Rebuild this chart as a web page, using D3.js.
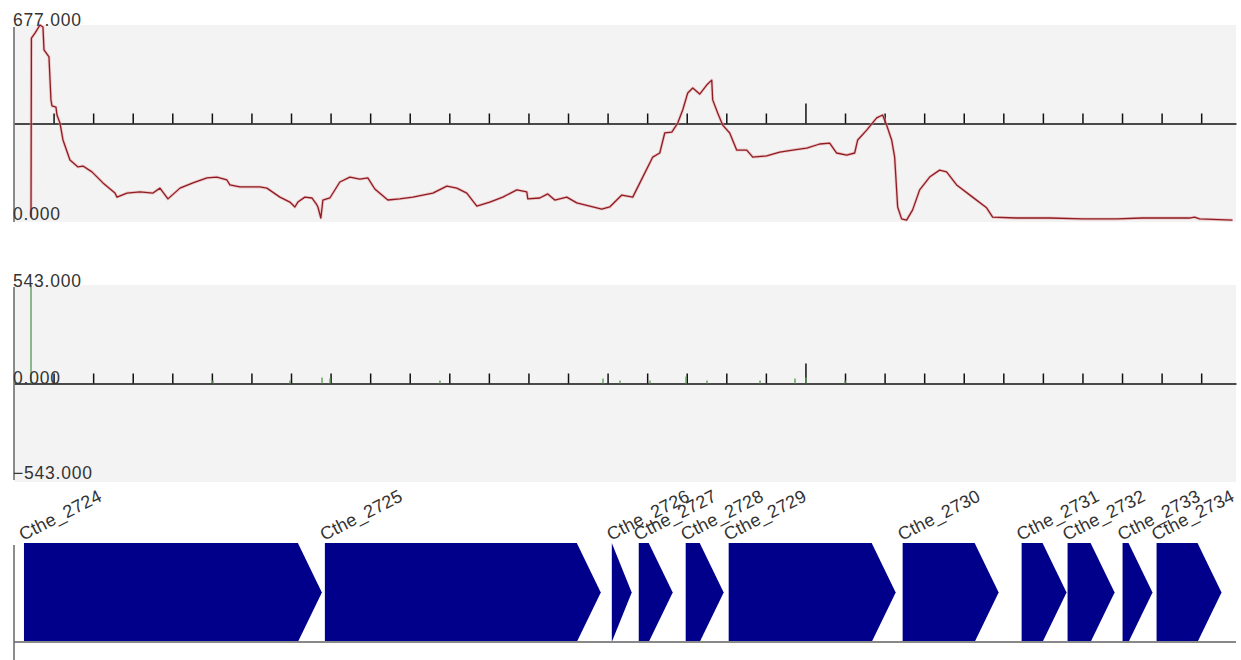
<!DOCTYPE html>
<html>
<head>
<meta charset="utf-8">
<script src="https://cdn.jsdelivr.net/npm/d3@7/dist/d3.min.js"></script>
<style>
  html, body { margin: 0; padding: 0; background: #fff; }
  svg { display: block; }
  text { font-family: "Liberation Sans", Arial, sans-serif; }
</style>
</head>
<body>
<svg id="chart" width="1241" height="660"></svg>
<script>
// Genomic window, in bp from the window start
const regionLength = 15440;
const minorTickStep = 500;
const majorTickStep = 10000;

// Coverage track (red)
const covMax = 677;
const covPos = [215, 220, 265, 328, 366, 379, 442, 467, 480, 530, 543, 581, 619, 707, 808, 871, 985, 1124, 1276, 1301,
  1427, 1591, 1756, 1844, 1945, 2097, 2261, 2438, 2564, 2690, 2728, 2854, 3107, 3195, 3360, 3486, 3549, 3587, 3675, 3764,
  3827, 3840, 3877, 3903, 3991, 4117, 4244, 4370, 4471, 4559, 4724, 4875, 5039, 5292, 5469, 5595, 5721, 5848, 6012, 6176,
  6353, 6479, 6492, 6643, 6744, 6833, 6984, 7111, 7275, 7426, 7527, 7679, 7818, 7944, 8071, 8159, 8222, 8311, 8386, 8449,
  8513, 8576, 8664, 8752, 8816, 8828, 8891, 8955, 9043, 9131, 9258, 9334, 9510, 9675, 9839, 10016, 10180, 10306, 10394, 10521,
  10622, 10660, 10774, 10900, 10975, 11026, 11089, 11127, 11165, 11215, 11278, 11354, 11443, 11569, 11695, 11783, 11910, 12112, 12289, 12365,
  12668, 13085, 13501, 13931, 14259, 14853, 14916, 14979, 15396];
const covVal = [15, 632, 649, 677, 670, 591, 567, 419, 398, 394, 367, 339, 281, 212, 188, 191, 171, 133, 98, 84,
  98, 102, 98, 115, 78, 115, 133, 150, 153, 143, 126, 119, 119, 115, 84, 67, 50, 67, 84, 81,
  57, 50, 12, 74, 81, 136, 153, 146, 150, 112, 74, 78, 84, 98, 122, 115, 98, 53, 67, 84,
  109, 102, 78, 81, 95, 74, 84, 64, 53, 43, 50, 91, 84, 153, 222, 236, 305, 308, 339, 384,
  443, 460, 439, 470, 487, 419, 374, 332, 305, 246, 246, 222, 226, 239, 246, 253, 267, 270, 236, 229,
  236, 281, 315, 357, 367, 332, 281, 222, 50, 9, 5, 40, 109, 153, 177, 171, 126, 84, 47, 15,
  12, 12, 9, 9, 12, 12, 15, 9, 5];

// Read-start track (green), symmetric scale
const startMax = 543;
const startPos = [215, 2514, 3487, 3892, 3993, 5382, 7442, 7657, 8036, 8491, 8756, 9426, 9868, 10007, 10500];
const startVal = [543, 16, 16, 33, 27, 16, 27, 16, 16, 38, 16, 16, 27, 33, 16];

// Gene annotation track
const geneNames = ["Cthe_2724", "Cthe_2725", "Cthe_2726", "Cthe_2727", "Cthe_2728", "Cthe_2729",
  "Cthe_2730", "Cthe_2731", "Cthe_2732", "Cthe_2733", "Cthe_2734"];
const geneStart = [126, 3928, 7553, 7894, 8487, 9030, 11228, 12731, 13312, 14007, 14436];
const geneEnd = [3890, 7414, 7805, 8323, 8967, 11140, 12441, 13299, 13906, 14385, 15257];

// Layout
const left = 14, right = 1236;
const covTop = 25, covBottom = 222;
const stTop = 285, stBottom = 482;
const geneTop = 543, geneBottom = 642;
const headLen = 24;

const svg = d3.select("#chart");
const x = d3.scaleLinear().domain([0, regionLength]).range([left, right]);

function panel(top, bottom) {
  svg.append("rect")
    .attr("x", left).attr("y", top)
    .attr("width", right - left).attr("height", bottom - top)
    .attr("fill", "#f3f3f3");
}

function tickAxis(yPos, minorLen) {
  const ticks = d3.range(minorTickStep, regionLength, minorTickStep);
  const ax = d3.axisTop(x).tickValues(ticks).tickSize(minorLen).tickSizeOuter(0).tickFormat("");
  const g = svg.append("g").attr("transform", `translate(0,${yPos})`).call(ax);
  g.select(".domain").attr("stroke", "#111").attr("stroke-width", 1.6);
  g.selectAll(".tick line")
    .attr("stroke", "#111").attr("stroke-width", 1.5)
    .attr("y2", d => (d % majorTickStep === 0 ? -2 * minorLen : -minorLen));
}

function yLine(top, bottom) {
  svg.append("line")
    .attr("x1", left).attr("x2", left).attr("y1", top).attr("y2", bottom)
    .attr("stroke", "#666").attr("stroke-width", 1.5);
}

function label(txt, yPos) {
  svg.append("text")
    .attr("x", left - 1).attr("y", yPos)
    .attr("font-size", 17.5).attr("letter-spacing", 0.8)
    .attr("fill", "#333")
    .text(txt);
}

// ---- Coverage panel ----
panel(covTop, covBottom);
const yCov = d3.scaleLinear().domain([0, covMax]).range([covBottom - 0.5, covTop]);
tickAxis((covTop + covBottom) / 2, 10);
yLine(covTop + 2, covBottom);

const covData = covPos.map((p, i) => [p, covVal[i]]);
const covLine = d3.line().x(d => x(d[0])).y(d => yCov(d[1]));
svg.append("path").datum(covData)
  .attr("d", covLine).attr("fill", "none")
  .attr("stroke", "#e7a3a6").attr("stroke-width", 3).attr("stroke-opacity", 0.55)
  .attr("stroke-linejoin", "round");
svg.append("path").datum(covData)
  .attr("d", covLine).attr("fill", "none")
  .attr("stroke", "#8e1c22").attr("stroke-width", 1.3)
  .attr("stroke-linejoin", "round");

label(d3.format(".3f")(covMax), covTop + 1);
label(d3.format(".3f")(0), covBottom - 2);

// ---- Read-start panel ----
panel(stTop, stBottom);
const ySt = d3.scaleLinear().domain([-startMax, startMax]).range([stBottom, stTop]);
tickAxis(ySt(0), 10);
yLine(stTop + 2, stBottom - 2);

svg.append("g").selectAll("line")
  .data(startPos.map((p, i) => [p, startVal[i]]))
  .join("line")
  .attr("x1", d => x(d[0])).attr("x2", d => x(d[0]))
  .attr("y1", ySt(0)).attr("y2", d => ySt(d[1]))
  .attr("stroke", "#5f9f5a").attr("stroke-width", 1.4);

label(d3.format(".3f")(startMax), stTop + 2);
label(d3.format(".3f")(0), ySt(0));
label(d3.format(".3f")(-startMax), stBottom - 3);

// ---- Gene track ----
const geneMid = (geneTop + geneBottom) / 2;
svg.append("g").selectAll("polygon")
  .data(geneNames.map((n, i) => ({ name: n, s: geneStart[i], e: geneEnd[i] })))
  .join("polygon")
  .attr("points", d => {
    const xs = x(d.s), xe = x(d.e);
    const xb = Math.max(xs, xe - headLen);
    return [[xs, geneTop], [xb, geneTop], [xe, geneMid], [xb, geneBottom], [xs, geneBottom]]
      .map(p => p.join(",")).join(" ");
  })
  .attr("fill", "#00008b");

svg.append("line")
  .attr("x1", left).attr("x2", right).attr("y1", geneBottom).attr("y2", geneBottom)
  .attr("stroke", "#888").attr("stroke-width", 2);
yLine(geneTop + 2, 660);

svg.append("g").selectAll("text")
  .data(geneNames.map((n, i) => ({ name: n, s: geneStart[i] })))
  .join("text")
  .attr("transform", d => `translate(${x(d.s) - 1},${geneTop - 2}) rotate(-27)`)
  .attr("font-size", 18).attr("letter-spacing", 0.2)
  .attr("fill", "#333")
  .text(d => d.name);
</script>
</body>
</html>
